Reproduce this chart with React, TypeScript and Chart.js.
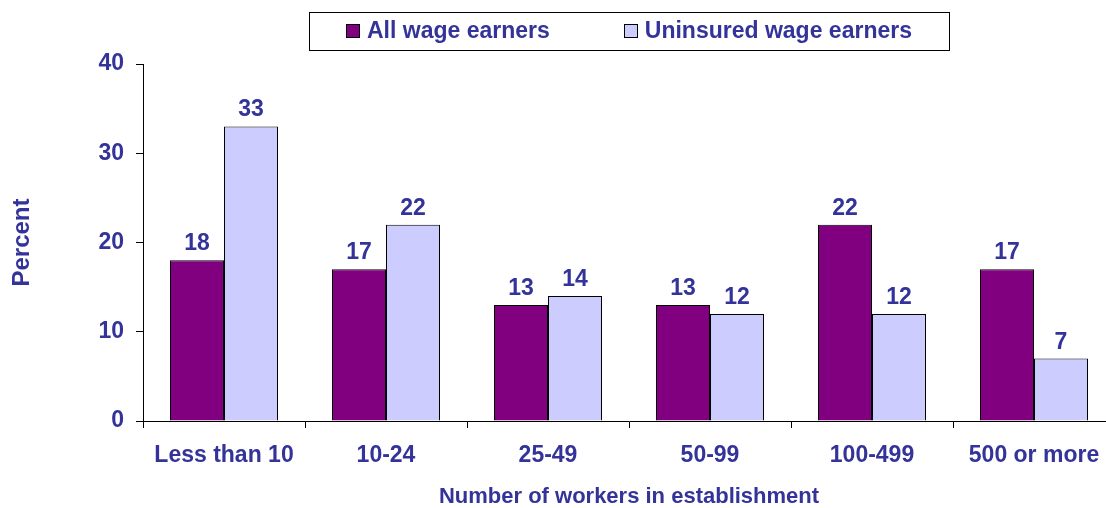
import { useEffect, useRef } from 'react';
import { Chart, registerables } from 'chart.js';

Chart.register(...registerables);

const categories = ['Less than 10', '10-24', '25-49', '50-99', '100-499', '500 or more'];
const seriesNames = ['All wage earners', 'Uninsured wage earners'];
const allWageEarners = [18, 17, 13, 13, 22, 17];
const uninsuredWageEarners = [33, 22, 14, 12, 12, 7];
const yTickValues = [0, 10, 20, 30, 40];
const xTitle = 'Number of workers in establishment';
const yTitle = 'Percent';

const TEXT = '#333399';
const PURPLE = '#800080';
const LAVENDER = '#CCCCFF';
const FAMILY = '"Liberation Sans", Arial, Helvetica, sans-serif';

const dataLabelPlugin = {
  id: 'dataLabels',
  afterDatasetsDraw(chart: any) {
    const ctx = chart.ctx;
    ctx.save();
    ctx.font = `bold 23px ${FAMILY}`;
    ctx.fillStyle = TEXT;
    ctx.textAlign = 'center';
    ctx.textBaseline = 'alphabetic';
    chart.data.datasets.forEach((ds: any, i: number) => {
      const meta = chart.getDatasetMeta(i);
      meta.data.forEach((bar: any, j: number) => {
        ctx.fillText(String(ds.data[j]), bar.x, bar.y - 10);
      });
    });
    ctx.restore();
  },
};

const boxedLegendPlugin = {
  id: 'boxedLegend',
  afterDraw(chart: any) {
    const ctx = chart.ctx;
    const area = chart.chartArea;
    const cx = (area.left + area.right) / 2;
    const sq = 14;
    const gapText = 7;
    const gapItems = 74;
    const padX = 37;
    const top = 12;
    const h = 38;
    ctx.save();
    ctx.font = `bold 23px ${FAMILY}`;
    const items = chart.data.datasets.map((ds: any) => ({
      label: ds.label,
      color: ds.backgroundColor,
      w: sq + gapText + ctx.measureText(ds.label).width,
    }));
    const total = items.reduce((s: number, it: any) => s + it.w, 0) + gapItems * (items.length - 1);
    const boxW = Math.round(total + padX * 2);
    const boxL = Math.round(cx - boxW / 2);
    ctx.strokeStyle = '#000';
    ctx.lineWidth = 1;
    ctx.strokeRect(boxL + 0.5, top + 0.5, boxW, h);
    let x = boxL + padX;
    const cy = top + h / 2;
    items.forEach((it: any) => {
      const sx = Math.round(x);
      const sy = Math.round(cy - sq / 2);
      ctx.fillStyle = it.color;
      ctx.fillRect(sx, sy, sq, sq);
      ctx.strokeStyle = '#000';
      ctx.strokeRect(sx + 0.5, sy + 0.5, sq - 1, sq - 1);
      ctx.fillStyle = TEXT;
      ctx.textAlign = 'left';
      ctx.textBaseline = 'middle';
      ctx.fillText(it.label, x + sq + gapText, cy + 1);
      x += it.w + gapItems;
    });
    ctx.restore();
  },
};

export default function App() {
  const ref = useRef<HTMLCanvasElement | null>(null);

  useEffect(() => {
    if (!ref.current) return;
    const chart = new Chart(ref.current, {
      type: 'bar',
      data: {
        labels: categories,
        datasets: [
          {
            label: seriesNames[0],
            data: allWageEarners,
            backgroundColor: PURPLE,
            borderColor: '#000',
            borderWidth: 1,
            categoryPercentage: 2 / 3,
            barPercentage: 1,
          },
          {
            label: seriesNames[1],
            data: uninsuredWageEarners,
            backgroundColor: LAVENDER,
            borderColor: '#000',
            borderWidth: 1,
            categoryPercentage: 2 / 3,
            barPercentage: 1,
          },
        ],
      },
      options: {
        responsive: false,
        animation: false,
        devicePixelRatio: 1,
        layout: { padding: { top: 64, right: 5, bottom: 0, left: 0 } },
        plugins: {
          legend: { display: false },
          tooltip: { enabled: false },
        },
        scales: {
          x: {
            offset: true,
            grid: {
              offset: true,
              drawOnChartArea: false,
              drawTicks: true,
              tickLength: 7,
              color: '#000',
            },
            border: { display: true, color: '#000', width: 1 },
            ticks: {
              color: TEXT,
              font: { family: FAMILY, size: 23, weight: 'bold' },
              padding: 14,
              maxRotation: 0,
              autoSkip: false,
            },
            title: {
              display: true,
              text: xTitle,
              color: TEXT,
              font: { family: FAMILY, size: 22, weight: 'bold', lineHeight: 1 },
              padding: { top: 0, bottom: 0 },
            },
            afterFit(scale: any) {
              scale.height = 87;
            },
          },
          y: {
            min: 0,
            max: 40,
            afterBuildTicks(scale: any) {
              scale.ticks = yTickValues.map((v) => ({ value: v }));
            },
            grid: {
              drawOnChartArea: false,
              drawTicks: true,
              tickLength: 7,
              color: '#000',
            },
            border: { display: true, color: '#000', width: 1 },
            ticks: {
              color: TEXT,
              font: { family: FAMILY, size: 23, weight: 'bold' },
              padding: 12,
            },
            title: {
              display: true,
              text: yTitle,
              color: TEXT,
              font: { family: FAMILY, size: 24, weight: 'bold', lineHeight: 1 },
              padding: { top: 10, bottom: 0 },
            },
            afterFit(scale: any) {
              scale.width = 143;
            },
          },
        },
      },
      plugins: [dataLabelPlugin, boxedLegendPlugin],
    });
    return () => chart.destroy();
  }, []);

  return (
    <div style={{ position: 'fixed', left: 0, top: 0, width: 1120, height: 508, background: '#fff' }}>
      <canvas ref={ref} width={1120} height={508} style={{ display: 'block', width: 1120, height: 508 }} />
    </div>
  );
}
